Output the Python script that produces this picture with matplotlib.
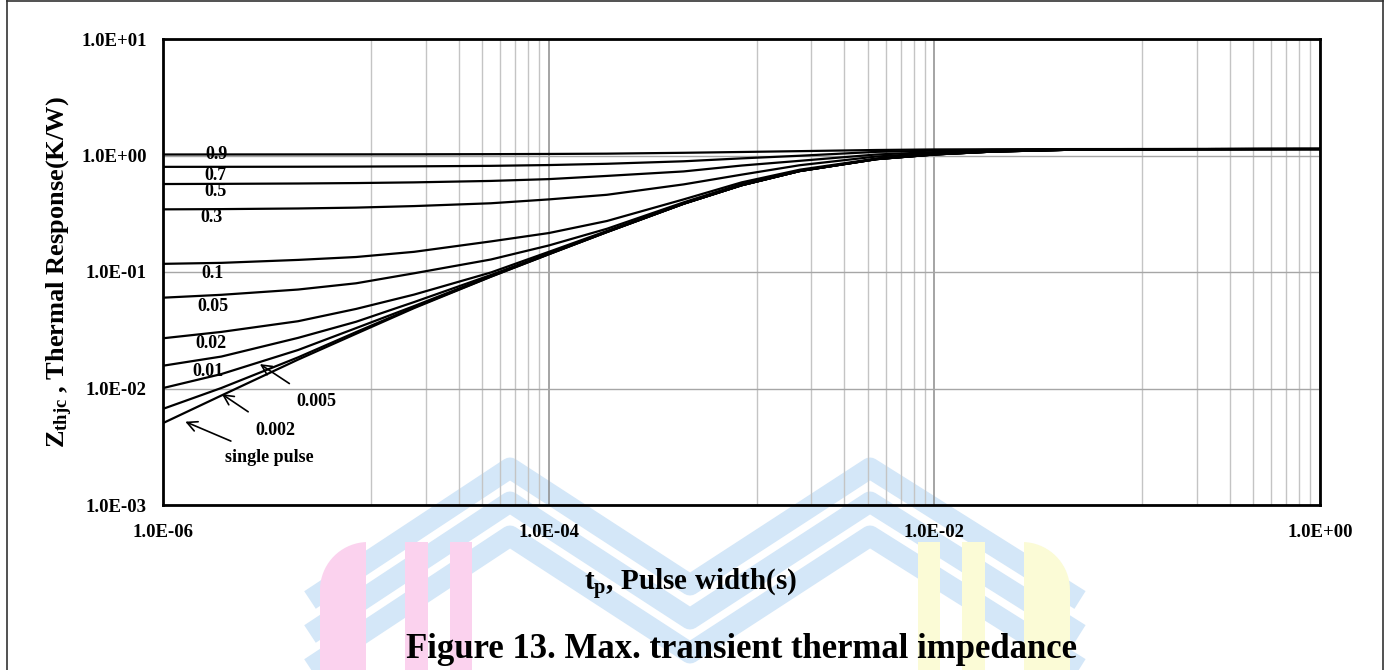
import numpy as np
import matplotlib
matplotlib.use("Agg")
import matplotlib.pyplot as plt
from matplotlib.ticker import FixedLocator, NullFormatter
from matplotlib.patches import Rectangle, PathPatch
from matplotlib.path import Path

plt.rcParams['font.family'] = ['Liberation Serif', 'DejaVu Serif']
plt.rcParams['font.weight'] = 'bold'
plt.rcParams['mathtext.fontset'] = 'custom'
plt.rcParams['mathtext.rm'] = 'Liberation Serif:bold'
plt.rcParams['mathtext.bf'] = 'Liberation Serif:bold'
plt.rcParams['mathtext.it'] = 'Liberation Serif:bold:italic'

# pulse width (s)
tp = [1e-6, 2e-6, 5e-6, 1e-5, 2e-5, 5e-5, 1e-4, 2e-4, 5e-4, 1e-3,
      2e-3, 5e-3, 1e-2, 2e-2, 5e-2, 1e-1, 2e-1, 5e-1, 1.0]

# Zthjc (K/W), one list per duty cycle
z_09 = [1.02, 1.021, 1.022, 1.023, 1.024, 1.027, 1.031, 1.037, 1.055, 1.072,
        1.09, 1.115, 1.127, 1.131, 1.135, 1.136, 1.137, 1.137, 1.137]
z_07 = [0.799, 0.7995, 0.801, 0.803, 0.807, 0.815, 0.828, 0.849, 0.892, 0.945,
        0.995, 1.075, 1.10, 1.117, 1.131, 1.135, 1.136, 1.137, 1.137]
z_05 = [0.569, 0.571, 0.575, 0.58, 0.588, 0.605, 0.627, 0.668, 0.73, 0.82,
        0.90, 1.02, 1.07, 1.105, 1.128, 1.133, 1.135, 1.137, 1.137]
z_03 = [0.345, 0.3465, 0.351, 0.357, 0.368, 0.389, 0.42, 0.46, 0.565, 0.685,
        0.825, 0.98, 1.05, 1.095, 1.125, 1.132, 1.135, 1.136, 1.137]
z_01 = [0.1175, 0.1198, 0.127, 0.1345, 0.149, 0.183, 0.216, 0.274, 0.42, 0.588,
        0.755, 0.94, 1.03, 1.085, 1.122, 1.131, 1.134, 1.136, 1.137]
z_005 = [0.0602, 0.0637, 0.0707, 0.080, 0.0975, 0.128, 0.169, 0.235, 0.396, 0.57,
         0.74, 0.935, 1.025, 1.083, 1.121, 1.131, 1.134, 1.136, 1.137]
z_002 = [0.027, 0.0306, 0.0378, 0.0482, 0.064, 0.099, 0.149, 0.225, 0.387, 0.557,
         0.737, 0.932, 1.022, 1.081, 1.12, 1.13, 1.134, 1.136, 1.137]
z_001 = [0.0157, 0.0188, 0.0272, 0.0374, 0.0552, 0.0942, 0.1445, 0.2218, 0.386, 0.556,
         0.736, 0.931, 1.021, 1.0805, 1.12, 1.13, 1.134, 1.136, 1.137]
z_0005 = [0.0101, 0.0133, 0.0214, 0.033, 0.051, 0.0925, 0.143, 0.2205, 0.3855, 0.5555,
          0.7355, 0.9305, 1.0205, 1.0802, 1.12, 1.13, 1.134, 1.136, 1.137]
z_0002 = [0.0067, 0.0101, 0.0185, 0.0305, 0.0497, 0.0913, 0.1422, 0.2202, 0.3852, 0.5552,
          0.7352, 0.9302, 1.0202, 1.0801, 1.12, 1.13, 1.134, 1.136, 1.137]
z_single = [0.00506, 0.0087, 0.0177, 0.0295, 0.049, 0.091, 0.142, 0.22, 0.385, 0.555,
            0.735, 0.93, 1.02, 1.08, 1.12, 1.13, 1.134, 1.136, 1.137]

curves = [z_09, z_07, z_05, z_03, z_01, z_005, z_002, z_001, z_0005, z_0002, z_single]

# curve labels (text, t, Z)
labels = [("0.9", 1.88e-6, 1.016), ("0.7", 1.86e-6, 0.68), ("0.5", 1.86e-6, 0.489),
          ("0.3", 1.77e-6, 0.295), ("0.1", 1.80e-6, 0.0975), ("0.05", 1.81e-6, 0.051),
          ("0.02", 1.77e-6, 0.0241), ("0.01", 1.70e-6, 0.0139)]
# arrowed labels (text, text pos, arrow tip)
arrow_labels = [("0.005", (6.26e-6, 0.0077), (3.17e-6, 0.0162)),
                ("0.002", (3.81e-6, 0.0044), (2.01e-6, 0.00897)),
                ("single pulse", (3.53e-6, 0.00257), (1.30e-6, 0.00519))]

xticks = [1e-6, 1e-4, 1e-2, 1.0]
xticklabels = ["1.0E-06", "1.0E-04", "1.0E-02", "1.0E+00"]
yticks = [1e-3, 1e-2, 1e-1, 1.0, 10.0]
yticklabels = ["1.0E-03", "1.0E-02", "1.0E-01", "1.0E+00", "1.0E+01"]

W, H = 1391, 670
fig = plt.figure(figsize=(W / 100, H / 100), dpi=100)

# background layer in pixel units: watermark + outer frame
bg = fig.add_axes([0, 0, 1, 1], zorder=0)
bg.set_xlim(0, W)
bg.set_ylim(H, 0)
bg.axis("off")

blue = "#d4e7f8"
pts = 0.72  # px -> pt at 100 dpi
m_x = [310, 510, 690, 870, 1080]
m_y = [600, 468, 585, 468, 600]
for k in range(3):
    bg.plot(m_x, [v + 34 * k for v in m_y], color=blue, lw=21 * pts,
            solid_joinstyle="round", solid_capstyle="butt", zorder=1)


def arch_clip(x0, x1, top, rad, left_round):
    # block with only its outer top corner rounded
    ang = np.linspace(0, np.pi / 2, 20)
    if left_round:
        cx, cy = x0 + rad, top + rad
        arc = [(cx - rad * np.cos(a), cy - rad * np.sin(a)) for a in ang]
        verts = [(x0, H + 50)] + arc + [(x1, top), (x1, H + 50), (x0, H + 50)]
    else:
        cx, cy = x1 - rad, top + rad
        arc = [(cx + rad * np.sin(a), cy - rad * np.cos(a)) for a in ang]
        verts = [(x0, H + 50), (x0, top)] + arc + [(x1, H + 50), (x0, H + 50)]
    p = PathPatch(Path(verts), transform=bg.transData, fc="none", ec="none")
    bg.add_patch(p)
    return p


pink = "#fbd2ee"
yellow = "#fbfbd6"
clip_p = arch_clip(320, 472, 542, 48, True)
clip_y = arch_clip(918, 1070, 542, 48, False)
for x0, x1 in [(320, 366), (405, 428), (450, 472)]:
    r = Rectangle((x0, 540), x1 - x0, H - 540, color=pink, lw=0, zorder=2)
    bg.add_patch(r)
    r.set_clip_path(clip_p)
for x0, x1 in [(918, 940), (962, 985), (1024, 1070)]:
    r = Rectangle((x0, 540), x1 - x0, H - 540, color=yellow, lw=0, zorder=2)
    bg.add_patch(r)
    r.set_clip_path(clip_y)

bg.plot([7, 7], [0, H], color="#333333", lw=1.2, zorder=3)
bg.plot([1383, 1383], [0, H], color="#333333", lw=1.2, zorder=3)
bg.plot([7, 1383], [1, 1], color="#333333", lw=1.2, zorder=3)

ax = fig.add_axes([163.3 / W, 1 - 505 / H, (1320 - 163.3) / W, (505 - 39) / H], zorder=1)
ax.set_facecolor("none")
ax.set_xscale("log")
ax.set_yscale("log")
ax.set_xlim(1e-6, 1.0)
ax.set_ylim(1e-3, 10.0)

for z in curves:
    ax.plot(tp, z, color="black", lw=1.6, zorder=3)

ax.set_xticks(xticks)
ax.set_xticklabels(xticklabels)
ax.set_yticks(yticks)
ax.set_yticklabels(yticklabels)
# Excel-style base-100 log axis: 8 linear minor divisions in each 2-decade span
minor_x = []
for base in [1e-6, 1e-4, 1e-2]:
    step = (base * 100 - base) / 9
    minor_x += [base + k * step for k in range(1, 9)]
ax.xaxis.set_minor_locator(FixedLocator(minor_x))
ax.xaxis.set_minor_formatter(NullFormatter())
ax.yaxis.set_minor_locator(FixedLocator([]))

ax.grid(True, which="major", axis="y", color="#a6a6a6", lw=1.0)
ax.grid(True, which="major", axis="x", color="#8c8c8c", lw=1.1)
ax.grid(True, which="minor", axis="x", color="#c4c4c4", lw=1.0)
ax.set_axisbelow(True)

ax.tick_params(which="both", length=0)
ax.tick_params(axis="x", pad=14, labelsize=13.5)
ax.tick_params(axis="y", pad=12, labelsize=13.5)
for lab in ax.get_xticklabels() + ax.get_yticklabels():
    lab.set_fontweight("bold")
for s in ax.spines.values():
    s.set_linewidth(2.0)
    s.set_color("black")

for txt, tx, ty in labels:
    ax.text(tx, ty, txt, fontsize=13, fontweight="bold", ha="center", va="center", zorder=4)
for txt, pos, tip in arrow_labels:
    ax.annotate(txt, xy=tip, xytext=pos, fontsize=13, fontweight="bold",
                ha="center", va="center", zorder=4,
                arrowprops=dict(arrowstyle="->", color="black", lw=1.2,
                                mutation_scale=18, shrinkA=9, shrinkB=0))

fig.text(60 / W, 1 - 272 / H, r"$\mathbf{Z}_{\mathbf{thjc}}$ , Thermal Response(K/W)",
         rotation=90, ha="center", va="center", fontsize=19, fontweight="bold")
fig.text(690 / W, 1 - 585 / H, r"$\mathbf{t}_{\mathbf{p}}$, Pulse width(s)",
         ha="center", va="center", fontsize=21, fontweight="bold")
fig.text(742 / W, 1 - 650 / H, "Figure 13. Max. transient thermal impedance",
         ha="center", va="center", fontsize=25, fontweight="bold")

fig.savefig("out.png", dpi=100)
